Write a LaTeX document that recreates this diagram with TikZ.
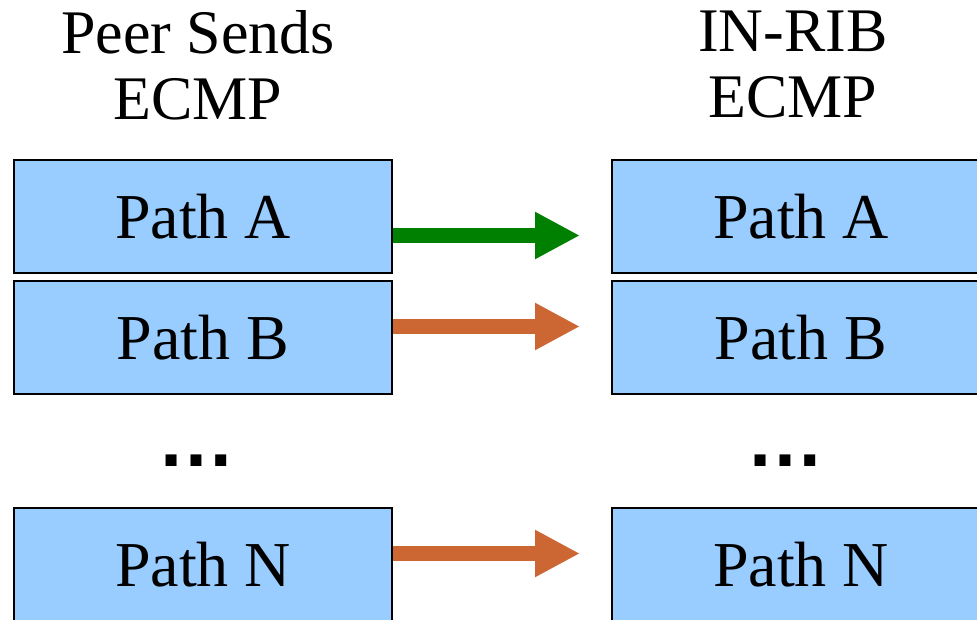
\documentclass[tikz,border=0pt]{standalone}
\usepackage{fontspec}
\setmainfont{Liberation Serif}
\newfontfamily\dotsfont{Liberation Sans}
\usetikzlibrary{arrows.meta}
\tikzset{>=stealth}
\definecolor{pathblue}{HTML}{99CCFF}
\definecolor{ecmpgreen}{HTML}{008000}
\definecolor{ecmporange}{HTML}{CC6633}
\tikzset{
    pathbox/.style = {draw, line width=2pt, fill=pathblue, inner sep=0pt,
        minimum width=378pt, minimum height=113pt,
        font=\fontsize{64}{66}\selectfont},
    title/.style = {align=center, font=\fontsize{62}{66}\selectfont},
    moredots/.style = {font=\dotsfont\fontsize{78}{78}\selectfont\bfseries},
    flow/.style = {line width=15pt, -{Triangle[length=45pt, width=44pt]}, shorten >=31pt}
}

\begin{document}
\begin{tikzpicture}[x=1pt, y=-1pt]
    \useasboundingbox (0,0) rectangle (977,620);

    \node[title] (peer) at (198,65) {Peer Sends\\ECMP};
    \node[title] (inrib) at (793,65) {IN-RIB\\ECMP};

    \node[pathbox] (lA) at (203,216.5) {Path A};
    \node[pathbox] (lB) at (203,337.5) {Path B};
    \node[moredots] (ldots) at (196,461) {…};
    \node[pathbox] (lN) at (203,564.5) {Path N};

    \node[pathbox] (rA) at (801,216.5) {Path A};
    \node[pathbox] (rB) at (801,337.5) {Path B};
    \node[moredots] (rdots) at (785,461) {…};
    \node[pathbox] (rN) at (801,564.5) {Path N};

    \draw[flow, ecmpgreen] ([yshift=-19pt]lA.east) -- ([yshift=-19pt]rA.west);
    \draw[flow, ecmporange] ([yshift=11pt]lB.east) -- ([yshift=11pt]rB.west);
    \draw[flow, ecmporange] ([yshift=11pt]lN.east) -- ([yshift=11pt]rN.west);
\end{tikzpicture}
\end{document}
